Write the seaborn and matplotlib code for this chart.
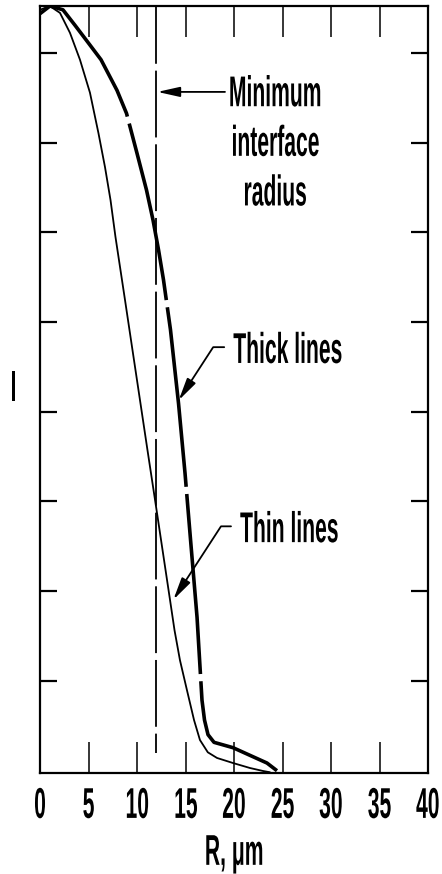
import matplotlib
matplotlib.use("Agg")
import matplotlib.pyplot as plt
import numpy as np
import pandas as pd
import seaborn as sns
from matplotlib.patheffects import AbstractPathEffect
from matplotlib.transforms import Affine2D, Bbox

# ---- data ----
r_thick = [0, 1.03, 2.37, 3.6, 4.74, 6.29, 7.94, 8.92, 10.0, 10.98, 11.65, 12.22, 12.73,
           13.45, 14.28, 14.95, 15.52, 16.19, 16.70, 16.96, 17.32, 17.94, 19.9, 21.65, 23.4, 24.43]
i_thick = [0.99, 1.0, 0.995, 0.975, 0.956, 0.930, 0.890, 0.860, 0.808, 0.760, 0.721, 0.682, 0.643,
           0.578, 0.482, 0.391, 0.304, 0.203, 0.095, 0.069, 0.050, 0.040, 0.033, 0.023, 0.013, 0.003]

r_thin = [0, 1, 2.06, 3.09, 4.12, 5.15, 6.03, 6.70, 7.27, 7.78, 8.76, 9.54, 10.31, 11.08, 11.86,
          12.63, 13.40, 13.87, 14.43, 15.15, 15.88, 16.49, 17.3, 18.25, 19.9, 21.65, 23.0, 23.7]
i_thin = [0.995, 1.0, 0.991, 0.965, 0.930, 0.887, 0.834, 0.790, 0.747, 0.699, 0.617, 0.551, 0.486,
          0.421, 0.356, 0.291, 0.226, 0.186, 0.147, 0.108, 0.069, 0.043, 0.027, 0.0196, 0.013,
          0.0065, 0.0026, 0.001]

min_interface_radius = 12.0
x_ticks = [0, 5, 10, 15, 20, 25, 30, 35, 40]
y_ticks = [0.120, 0.237, 0.354, 0.471, 0.588, 0.705, 0.822, 0.939]


class Condense(AbstractPathEffect):
    """Draw text glyphs horizontally compressed (condensed face look)."""

    def __init__(self, sx=0.5, anchor="center"):
        super().__init__()
        self.sx = sx
        self.anchor = anchor

    def draw_path(self, renderer, gc, tpath, affine, rgbFace=None):
        ext = tpath.get_extents()
        cx = (ext.x0 + ext.x1) / 2 if self.anchor == "center" else ext.x0
        t = Affine2D().translate(-cx, 0).scale(self.sx, 1).translate(cx, 0) + affine
        renderer.draw_path(gc, tpath, t, rgbFace)


def condense(text, sx=0.5, anchor="center"):
    text.set_path_effects([Condense(sx, anchor)])
    orig = text.get_window_extent

    def gwe(renderer=None, dpi=None):
        bb = orig(renderer=renderer, dpi=dpi)
        cx = (bb.x0 + bb.x1) / 2 if anchor == "center" else bb.x0
        return Bbox.from_extents(cx + (bb.x0 - cx) * sx, bb.y0,
                                 cx + (bb.x1 - cx) * sx, bb.y1)

    text.get_window_extent = gwe
    return text


sns.set_style("white")
plt.rcParams["font.family"] = ["Liberation Sans", "DejaVu Sans"]
FS = 31
SX = 0.49

fig = plt.figure(figsize=(4.42, 8.74), dpi=100)
ax = fig.add_axes([40 / 442, 101 / 874, 388 / 442, 767 / 874])

df_thick = pd.DataFrame({"R": r_thick, "I": i_thick})
df_thin = pd.DataFrame({"R": r_thin, "I": i_thin})

sns.lineplot(data=df_thin, x="R", y="I", ax=ax, color="black", lw=1.3, errorbar=None)
sns.lineplot(data=df_thick, x="R", y="I", ax=ax, color="black", lw=2.6, errorbar=None)
ax.lines[-1].set_linestyle((8, (50, 2)))
ax.lines[-1].set_dash_capstyle("butt")
ax.lines[-1].set_solid_joinstyle("round")

ax.vlines(min_interface_radius, 1.0, 0.026, color="black", lw=1.3,
          linestyles=[(5, (37, 3.8))])

ax.set_xlim(0, 40)
ax.set_ylim(0, 1.0)
ax.set_xticks(x_ticks)
ax.set_xticklabels([str(t) for t in x_ticks])
ax.set_yticks(y_ticks)
ax.set_yticklabels([])

ax.tick_params(axis="x", which="major", direction="in", length=22, width=1.1,
               top=True, bottom=True, pad=10, labelsize=FS, colors="black")
ax.tick_params(axis="y", which="major", direction="in", length=12, width=1.6,
               left=True, right=True, colors="black")
for s in ax.spines.values():
    s.set_visible(True)
    s.set_color("black")
    s.set_linewidth(1.6)
for lab in ax.get_xticklabels():
    lab.set_fontweight("bold")
    condense(lab, SX, "center")

xl = ax.set_xlabel("R, μm", fontsize=FS, fontweight="bold", labelpad=5, color="black")
condense(xl, SX, "center")
yl = ax.set_ylabel("I", fontsize=FS, fontweight="bold", rotation=0, color="black",
                   va="center", ha="center")
ax.yaxis.set_label_coords(-0.0696, 0.50)
condense(yl, SX, "center")

arrow_kw = dict(arrowstyle="-|>,head_length=0.9,head_width=0.2",
                color="black", lw=1.3, mutation_scale=15)

# annotations
t1 = ax.text(24.2, 0.819, "Minimum\ninterface\nradius", ha="center", va="center",
             fontsize=FS, fontweight="bold", linespacing=1.31, color="black")
condense(t1, SX, "center")
ax.annotate("", xy=(12.1, 0.888), xytext=(19.07, 0.888),
            arrowprops=dict(**arrow_kw, shrinkA=0, shrinkB=0))

t2 = ax.annotate("Thick lines", xy=(14.3, 0.486), xytext=(19.9, 0.5346),
                 ha="left", va="baseline", fontsize=FS, fontweight="bold", color="black",
                 arrowprops=dict(**arrow_kw,
                                 connectionstyle="angle,angleA=180,angleB=57,rad=0",
                                 relpos=(0, 0.62), shrinkA=4, shrinkB=0))
condense(t2, SX, "left")

t3 = ax.annotate("Thin lines", xy=(13.75, 0.226), xytext=(20.6, 0.301),
                 ha="left", va="baseline", fontsize=FS, fontweight="bold", color="black",
                 arrowprops=dict(**arrow_kw,
                                 connectionstyle="angle,angleA=180,angleB=57,rad=0",
                                 relpos=(0, 0.62), shrinkA=4, shrinkB=0))
condense(t3, SX, "left")

fig.savefig("out.png", dpi=100, facecolor="white")
